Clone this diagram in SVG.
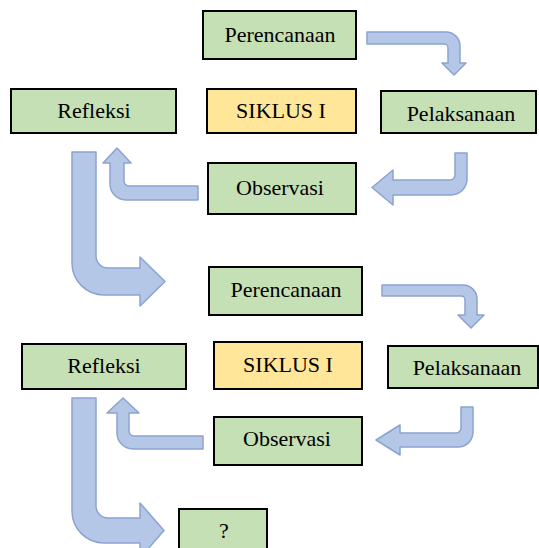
<svg xmlns="http://www.w3.org/2000/svg" width="539" height="548" viewBox="0 0 539 548">
<style>
.box{fill:#c5e0b4;stroke:#000;stroke-width:2}
.cyc{fill:#ffe699;stroke:#000;stroke-width:2}
.lbl{font-size:22px;fill:#000;text-anchor:middle}
.arr{fill:#b4c7e7;stroke:#8ca3cf;stroke-width:1.5;stroke-linejoin:round}
</style>
<rect width="539" height="548" fill="#fff"/>
<g id="connectors">
<path class="arr" d="M367,32 H446 A14,14 0 0 1 460,46 V63 H466 L454,75 L442,63 H448 V48 A4,4 0 0 0 444,44 H367 Z"/>
<path class="arr" d="M455,153 H467 V179 A16,16 0 0 1 451,195 H393 V205 L372,187.5 L393,170 V180 H450 A5,5 0 0 0 455,175 Z"/>
<path class="arr" d="M198,186 H129 A5,5 0 0 1 124,181 V163 H131 L117,148 L103,163 H110 V184 A16,16 0 0 0 126,200 H198 Z"/>
<path class="arr" d="M72,152 H96 V256 A12,12 0 0 0 108,268 H140 V257 L165,281.5 L140,306 V295 H104 A32,32 0 0 1 72,263 Z"/>
<path class="arr" d="M382,285 H463 A14,14 0 0 1 477,299 V315 H484 L471,328 L458,315 H465 V300 A4,4 0 0 0 461,296 H382 Z"/>
<path class="arr" d="M461,407 H473 V432 A15,15 0 0 1 458,447 H400 V455 L376,440 L400,425 V433 H456 A5,5 0 0 0 461,428 Z"/>
<path class="arr" d="M203,436 H134 A5,5 0 0 1 129,431 V413 H139 L123,398 L107,413 H117 V433 A16,16 0 0 0 133,449 H203 Z"/>
<path class="arr" d="M72,398 H96 V506 A12,12 0 0 0 108,518 H140 V503 L164,530.5 L140,558 V543 H104 A32,32 0 0 1 72,511 Z"/>
</g>
<g font-family="'Liberation Serif', 'Times New Roman', 'DejaVu Serif', serif">
<g id="perencanaan1"><rect class="box" x="203" y="11" width="153" height="48"/><text class="lbl" x="280" y="42">Perencanaan</text></g>
<g id="siklus1"><rect class="cyc" x="207" y="89" width="149" height="44"/><text class="lbl" x="281" y="118">SIKLUS I</text></g>
<g id="pelaksanaan1"><rect class="box" x="381" y="91" width="155" height="42"/><text class="lbl" x="461" y="121">Pelaksanaan</text></g>
<g id="refleksi1"><rect class="box" x="11" y="89" width="165" height="44"/><text class="lbl" x="94" y="118">Refleksi</text></g>
<g id="observasi1"><rect class="box" x="208" y="163" width="148" height="51"/><text class="lbl" x="280" y="195">Observasi</text></g>
<g id="perencanaan2"><rect class="box" x="209" y="267" width="153" height="48"/><text class="lbl" x="286" y="297">Perencanaan</text></g>
<g id="siklus2"><rect class="cyc" x="214" y="342" width="148" height="47"/><text class="lbl" x="288" y="372">SIKLUS I</text></g>
<g id="pelaksanaan2"><rect class="box" x="388" y="346" width="150" height="42"/><text class="lbl" x="467" y="375">Pelaksanaan</text></g>
<g id="refleksi2"><rect class="box" x="22" y="344" width="164" height="45"/><text class="lbl" x="104" y="373">Refleksi</text></g>
<g id="observasi2"><rect class="box" x="214" y="417" width="148" height="48"/><text class="lbl" x="287" y="446">Observasi</text></g>
<g id="next"><rect class="box" x="179" y="509" width="88" height="45"/><text class="lbl" x="224" y="538">?</text></g>
</g>
</svg>
